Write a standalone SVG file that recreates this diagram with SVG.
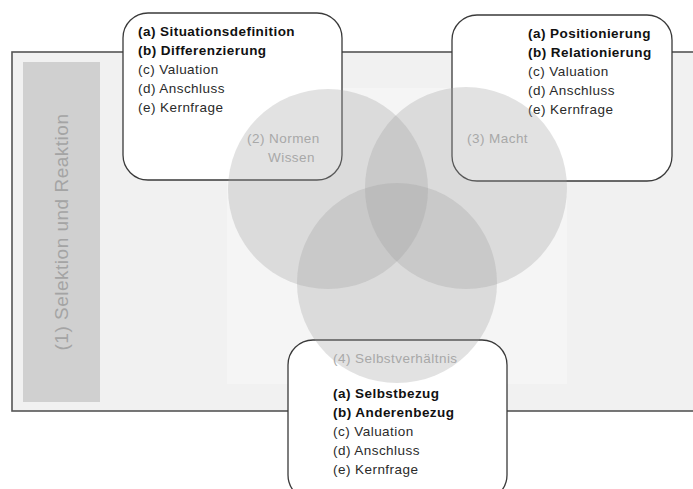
<svg xmlns="http://www.w3.org/2000/svg" width="693" height="489" viewBox="0 0 693 489">
<style>
.box{fill:#fff;stroke:#3a3a3a;stroke-width:1.3}
.t{font-family:"Liberation Sans",Arial,sans-serif;font-size:13.5px;letter-spacing:0.45px;fill:#2a2a2a}
.b{font-weight:bold;fill:#111}
.c{fill:#a0a0a0;fill-opacity:0.3}
.cl{font-family:"Liberation Sans",Arial,sans-serif;font-size:13.5px;letter-spacing:0.45px;fill:#a8a8a8}
</style>
<g id="frame">
<rect x="12" y="52" width="700" height="359" fill="#f1f1f1" stroke="#555" stroke-width="1.6"/>
<rect x="227" y="88" width="340" height="296" fill="#f5f5f5"/>
</g>
<g id="node1">
<rect x="23" y="62" width="77" height="340" fill="#d0d0d0"/>
<text transform="translate(68,232) rotate(-90)" text-anchor="middle" font-family="'Liberation Sans',Arial,sans-serif" font-size="19" letter-spacing="0.5" fill="#a4a4a4">(1) Selektion und Reaktion</text>
</g>
<g id="node2box">
<rect class="box" x="123" y="13" width="219" height="167" rx="25"/>
<text class="t"><tspan class="b" x="138" y="36">(a) Situationsdefinition</tspan><tspan class="b" x="138" y="55">(b) Differenzierung</tspan><tspan x="138" y="74">(c) Valuation</tspan><tspan x="138" y="93">(d) Anschluss</tspan><tspan x="138" y="112">(e) Kernfrage</tspan></text>
</g>
<g id="node3box">
<rect class="box" x="452" y="15" width="220" height="166" rx="25"/>
<text class="t"><tspan class="b" x="528" y="38">(a) Positionierung</tspan><tspan class="b" x="528" y="57">(b) Relationierung</tspan><tspan x="528" y="76">(c) Valuation</tspan><tspan x="528" y="95">(d) Anschluss</tspan><tspan x="528" y="114">(e) Kernfrage</tspan></text>
</g>
<g id="node4box">
<rect class="box" x="288" y="340" width="219" height="160" rx="25"/>
<text class="t"><tspan class="b" x="333" y="398">(a) Selbstbezug</tspan><tspan class="b" x="333" y="417">(b) Anderenbezug</tspan><tspan x="333" y="436">(c) Valuation</tspan><tspan x="333" y="455">(d) Anschluss</tspan><tspan x="333" y="474">(e) Kernfrage</tspan></text>
</g>
<g id="circles">
<g id="node2"><circle class="c" cx="328" cy="189" r="100"/><text class="cl"><tspan x="247" y="143">(2) Normen</tspan><tspan x="268" y="162">Wissen</tspan></text></g>
<g id="node3"><circle class="c" cx="466" cy="188" r="101"/><text class="cl" x="467" y="143">(3) Macht</text></g>
<g id="node4"><circle class="c" cx="397" cy="283" r="100"/><text class="cl" x="333" y="363">(4) Selbstverhältnis</text></g>
</g>
<g id="connectors"/>
</svg>
